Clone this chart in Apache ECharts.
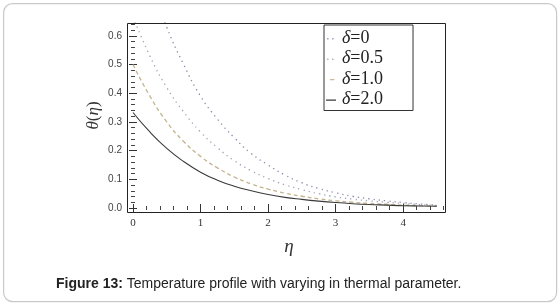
<!DOCTYPE html>
<html>
<head>
<meta charset="utf-8">
<script src="https://cdn.jsdelivr.net/npm/echarts@6/dist/echarts.min.js"></script>
<style>html,body{margin:0;padding:0;background:#fff}#c{width:560px;height:306px}</style>
</head>
<body>
<div id="c"></div>
<script>
// eta grid
const eta = [0, 0.25, 0.5, 0.75, 1, 1.25, 1.5, 1.75, 2, 2.25, 2.5, 2.75, 3, 3.25, 3.5, 3.75, 4, 4.25, 4.5];
// theta(eta) for each delta
const d0   = [1.0, 0.79, 0.63, 0.50, 0.39, 0.31, 0.245, 0.19, 0.15, 0.115, 0.088, 0.068, 0.053, 0.041, 0.032, 0.025, 0.019, 0.014, 0.010];
const d05  = [0.667, 0.53, 0.42, 0.335, 0.265, 0.21, 0.165, 0.13, 0.103, 0.081, 0.064, 0.050, 0.039, 0.031, 0.025, 0.020, 0.016, 0.012, 0.009];
const d10  = [0.5, 0.39, 0.30, 0.232, 0.18, 0.14, 0.108, 0.084, 0.066, 0.052, 0.041, 0.032, 0.025, 0.020, 0.016, 0.013, 0.010, 0.008, 0.007];
const d20  = [0.333, 0.265, 0.208, 0.162, 0.125, 0.097, 0.076, 0.060, 0.047, 0.037, 0.030, 0.024, 0.019, 0.015, 0.012, 0.010, 0.008, 0.007, 0.006];
const seriesNames = ['δ=0', 'δ=0.5', 'δ=1.0', 'δ=2.0'];
const xTicks = [0, 1, 2, 3, 4];
const yTicks = [0, 0.1, 0.2, 0.3, 0.4, 0.5, 0.6];

const pair = arr => eta.map((e, i) => [e, arr[i]]);
const chart = echarts.init(document.getElementById('c'), null, {renderer: 'canvas'});
const serif = "'Liberation Serif','DejaVu Serif',serif";
const sans = "'Liberation Sans',Arial,sans-serif";

const tickCommon = {inside: true, length: 4, lineStyle: {color: '#333', width: 1}};
const minorCommon = {show: true, splitNumber: 5, length: 2, lineStyle: {color: '#444', width: 1}};

// legend glyphs (12 x 14 box; tiny corner points keep the box extent)
const box = 'M0,0h0.01v0.01h-0.01z M12,14h0.01v0.01h-0.01z ';
const iconDots = 'path://' + box + 'M1,7h1.6v1.6h-1.6z M6,7h1.6v1.6h-1.6z';
const iconDash = 'path://' + box + 'M4,7h4.5v1.3h-4.5z';
const iconSolid = 'path://' + box + 'M0,7h10v1.3h-10z';

const option = {
  animation: false,
  backgroundColor: '#fff',
  title: {
    text: '{b|Figure 13:} Temperature profile with varying in thermal parameter.',
    left: 51, top: 272,
    textStyle: {fontFamily: sans, fontSize: 14, fontWeight: 'normal', color: '#222',
      rich: {b: {fontFamily: sans, fontSize: 14, fontWeight: 'bold', color: '#222'}}}
  },
  grid: {left: 133, right: 115, top: 23, bottom: 98},
  legend: {
    orient: 'vertical', left: 324, top: 25,
    padding: [4, 30, 2, 2], itemGap: 2.5,
    itemWidth: 12, itemHeight: 14,
    backgroundColor: '#fff', borderColor: '#333', borderWidth: 1,
    data: [
      {name: seriesNames[0], icon: iconDots},
      {name: seriesNames[1], icon: iconDots},
      {name: seriesNames[2], icon: iconDash},
      {name: seriesNames[3], icon: iconSolid}
    ],
    formatter: n => '{i|δ}{n|' + n.slice(1) + '}',
    textStyle: {fontFamily: serif, fontSize: 18, color: '#222', padding: [0, 0, 0, -1],
      rich: {i: {fontFamily: serif, fontStyle: 'italic', fontSize: 18, color: '#222'},
             n: {fontFamily: serif, fontSize: 18, color: '#222'}}}
  },
  xAxis: [{
    type: 'value', position: 'bottom', min: 0, max: 4.62, interval: 1, offset: 4,
    axisLine: {show: false}, splitLine: {show: false},
    axisTick: tickCommon, minorTick: minorCommon,
    axisLabel: {showMaxLabel: false, margin: 6, fontFamily: serif, fontSize: 11, color: '#333'},
    name: 'η', nameLocation: 'middle', nameGap: 25, nameMoveOverlap: false,
    nameTextStyle: {fontFamily: serif, fontStyle: 'italic', fontSize: 19, color: '#333'}
  }, {
    type: 'value', position: 'top', min: 0, max: 4.62, interval: 1,
    axisLine: {show: false}, splitLine: {show: false},
    axisTick: tickCommon, minorTick: minorCommon, axisLabel: {show: false}
  }],
  yAxis: [{
    type: 'value', position: 'left', min: 0, max: 0.645, interval: 0.1, offset: 6,
    axisLine: {show: false}, splitLine: {show: false},
    axisTick: tickCommon, minorTick: minorCommon,
    axisLabel: {showMaxLabel: false, margin: 5, fontFamily: sans, fontSize: 10, color: '#444',
      formatter: v => v.toFixed(1)},
    name: '{i|θ}{n|(}{i|η}{n|)}', nameLocation: 'middle', nameGap: 25, nameRotate: 90,
    nameMoveOverlap: false,
    nameTextStyle: {fontSize: 17, color: '#333',
      rich: {i: {fontFamily: serif, fontStyle: 'italic', fontSize: 17, color: '#333'},
             n: {fontFamily: serif, fontSize: 17, color: '#333'}}}
  }, {
    type: 'value', position: 'right', min: 0, max: 0.645, interval: 0.1,
    axisLine: {show: false}, splitLine: {show: false},
    axisTick: tickCommon, minorTick: minorCommon, axisLabel: {show: false}
  }],
  graphic: [
    {type: 'rect', left: 3, top: 3, z: -10, shape: {width: 553, height: 298, r: 9},
     style: {fill: '#fff', stroke: '#c9c9c9', lineWidth: 1.2}},
    {type: 'rect', shape: {x: 127.5, y: 23.5, width: 318, height: 189}, z: 5,
     style: {fill: null, stroke: '#222', lineWidth: 1}}
  ],
  series: [
    {name: seriesNames[0], type: 'line', data: pair(d0), symbol: 'none', smooth: true, clip: true,
     lineStyle: {color: '#8f88aa', width: 1.3, type: [1.3, 4]}, itemStyle: {color: '#a9a6ba'}},
    {name: seriesNames[1], type: 'line', data: pair(d05), symbol: 'none', smooth: true, clip: true,
     lineStyle: {color: '#9ea4b8', width: 1.3, type: [1.3, 4]}, itemStyle: {color: '#b4b8c4'}},
    {name: seriesNames[2], type: 'line', data: pair(d10), symbol: 'none', smooth: true, clip: true,
     lineStyle: {color: '#c2b48e', width: 1.3, type: [4, 3]}, itemStyle: {color: '#c8bc9c'}},
    {name: seriesNames[3], type: 'line', data: pair(d20), symbol: 'none', smooth: true, clip: true,
     lineStyle: {color: '#3a3a3a', width: 1.1}, itemStyle: {color: '#3a3a3a'}}
  ]
};
chart.setOption(option);
</script>
</body>
</html>
